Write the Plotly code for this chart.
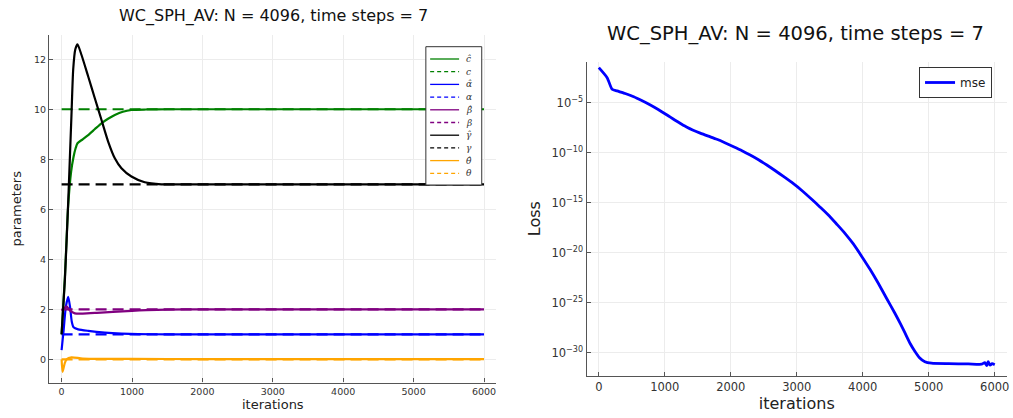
import plotly.graph_objects as go

W, H = 1013, 418

TITLE = "WC_SPH_AV: N = 4096, time steps = 7"

# ---------------- left panel data (iterations, parameter values) ----------------
c_hat_it = [0, 47, 94, 135, 170, 200, 226, 300, 378, 470, 567, 660, 756, 870, 992, 1200, 1500, 2000, 3000, 4000, 5000, 6000]
c_hat = [1.0, 3.3, 6.17, 7.5, 8.1, 8.45, 8.64, 8.8, 8.97, 9.2, 9.44, 9.62, 9.77, 9.9, 9.97, 9.99, 10.0, 10.0, 10.0, 10.0, 10.0, 10.0]

alpha_hat_it = [0, 30, 60, 94, 120, 145, 170, 236, 378, 614, 850, 1086, 1500, 2000, 3000, 4000, 5000, 6000]
alpha_hat = [0.37, 1.2, 2.1, 2.5, 2.1, 1.5, 1.28, 1.2, 1.14, 1.07, 1.03, 1.01, 1.0, 1.0, 1.0, 1.0, 1.0, 1.0]

beta_hat_it = [0, 40, 71, 120, 188, 300, 500, 730, 1000, 1205, 1500, 2000, 3000, 4000, 5000, 6000]
beta_hat = [1.95, 2.05, 2.12, 1.95, 1.84, 1.83, 1.86, 1.9, 1.94, 1.97, 1.99, 2.0, 2.0, 2.0, 2.0, 2.0]

gamma_hat_it = [0, 47, 94, 140, 165, 195, 226, 283, 378, 472, 567, 661, 756, 850, 992, 1181, 1417, 1700, 2000, 3000, 4000, 5000, 6000]
gamma_hat = [1.0, 3.2, 6.3, 9.75, 11.6, 12.4, 12.6, 12.17, 11.31, 10.44, 9.57, 8.71, 8.04, 7.64, 7.31, 7.08, 7.0, 7.0, 7.0, 7.0, 7.0, 7.0, 7.0]

theta_hat_it = [0, 14, 45, 71, 141, 300, 1000, 2000, 3000, 4000, 5000, 6000]
theta_hat = [0.0, -0.5, -0.15, 0.0, 0.08, 0.03, 0.02, 0.01, 0.01, 0.01, 0.01, 0.01]

true_it = [0, 6000]
c_true = [10, 10]
alpha_true = [1, 1]
beta_true = [2, 2]
gamma_true = [7, 7]
theta_true = [0, 0]

# ---------------- right panel data (iterations, mse loss) ----------------
loss_it = [0, 126, 202, 277, 400, 529, 650, 781, 900, 1034, 1150, 1250, 1336, 1430, 1537,
           1660, 1789, 1910, 2042, 2170, 2294, 2420, 2546, 2670, 2798, 2949, 3090, 3226,
           3350, 3478, 3600, 3730, 3860, 3982, 4110, 4235, 4360, 4487, 4570, 4638, 4720,
           4789, 4860, 4941, 5041, 5300, 5600, 5800, 5850, 5880, 5900, 5930, 5960, 6000]
loss = [3.2e-2, 3.2e-3, 2.2e-4, 1.5e-4, 8.3e-5, 4.0e-5, 1.66e-5, 5.9e-6, 2.1e-6, 5.9e-7,
        1.86e-7, 7.4e-8, 3.5e-8, 1.78e-8, 9.1e-9, 4.5e-9, 2.2e-9, 1.0e-9, 4.0e-10, 1.6e-10,
        5.9e-11, 2.0e-11, 5.9e-12, 1.66e-12, 4.2e-13, 7.9e-14, 1.41e-14, 2.2e-15, 3.8e-16,
        5.9e-17, 7.9e-18, 8.7e-19, 7.1e-20, 4.5e-21, 2.2e-22, 8.7e-24, 2.8e-25, 8.7e-27,
        7.9e-28, 1.0e-28, 7.9e-30, 1.41e-30, 3.2e-31, 1.26e-31, 8.9e-32, 7.9e-32, 7.6e-32,
        7.1e-32, 1.0e-31, 5.0e-32, 1.26e-31, 5.6e-32, 7.9e-32, 6.3e-32]

left_xticks = [0, 1000, 2000, 3000, 4000, 5000, 6000]
left_yticks = [0, 2, 4, 6, 8, 10, 12]
right_yticks = [1e-5, 1e-10, 1e-15, 1e-20, 1e-25, 1e-30]
right_yticktext = ["10<sup>−5</sup>", "10<sup>−10</sup>", "10<sup>−15</sup>",
                   "10<sup>−20</sup>", "10<sup>−25</sup>", "10<sup>−30</sup>"]

legend_labels = ["<i>ĉ</i>", "<i>c</i>", "<i>α̂</i>", "<i>α</i>", "<i>β̂</i>",
                 "<i>β</i>", "<i>γ̂</i>", "<i>γ</i>", "<i>θ̂</i>", "<i>θ</i>"]

GREEN, BLUE, PURPLE, BLACK, ORANGE = "#008000", "#0000ff", "#800080", "#000000", "#ffa500"
FONT = "DejaVu Sans"
DASH = "11px,6px"


def px(x):
    return x / W


def py(y):
    return 1 - y / H


fig = go.Figure()

series = [
    (c_hat_it, c_hat, GREEN, "solid"),
    (true_it, c_true, GREEN, DASH),
    (alpha_hat_it, alpha_hat, BLUE, "solid"),
    (true_it, alpha_true, BLUE, DASH),
    (beta_hat_it, beta_hat, PURPLE, "solid"),
    (true_it, beta_true, PURPLE, DASH),
    (gamma_hat_it, gamma_hat, BLACK, "solid"),
    (true_it, gamma_true, BLACK, DASH),
    (theta_hat_it, theta_hat, ORANGE, "solid"),
    (true_it, theta_true, ORANGE, DASH),
]
for (xs, ys, col, dash), name in zip(series, legend_labels):
    fig.add_trace(go.Scatter(
        x=xs, y=ys, mode="lines", name=name, showlegend=False,
        line=dict(color=col, width=2.2, dash=dash, shape="spline", smoothing=0.6),
        xaxis="x", yaxis="y"))

fig.add_trace(go.Scatter(
    x=loss_it, y=loss, mode="lines", name="mse", showlegend=True,
    line=dict(color=BLUE, width=2.8, shape="spline", smoothing=0.6),
    xaxis="x2", yaxis="y2"))

axis_common = dict(showline=True, linecolor="#555555", linewidth=1.3, mirror=False,
                   ticks="inside", ticklen=4, tickcolor="#555555", tickwidth=1,
                   showgrid=True, gridcolor="#ececec", gridwidth=1, zeroline=False)

fig.update_layout(
    width=W, height=H, margin=dict(l=0, r=0, t=0, b=0),
    paper_bgcolor="white", plot_bgcolor="white",
    font=dict(family=FONT, color="#222222"),
    xaxis=dict(domain=[px(49.3), px(497.4)], range=[-176, 6176], tickvals=left_xticks,
               tickfont=dict(size=9.5, color="#333333"), anchor="y",
               title=dict(text="iterations", font=dict(size=13), standoff=3), **axis_common),
    yaxis=dict(domain=[py(382.6), py(35)], range=[-0.93, 12.97], tickvals=left_yticks,
               tickfont=dict(size=9.5, color="#333333"), anchor="x",
               title=dict(text="parameters", font=dict(size=13), standoff=9), **axis_common),
    xaxis2=dict(domain=[px(587.7), px(1009)], range=[-186, 6186], tickvals=left_xticks,
                tickfont=dict(size=11.5, color="#333333"), anchor="y2",
                title=dict(text="iterations", font=dict(size=16), standoff=3), **axis_common),
    yaxis2=dict(domain=[py(375.7), py(61.7)], type="log", range=[-32.3, -0.9],
                tickvals=right_yticks, ticktext=right_yticktext,
                tickfont=dict(size=11.5, color="#333333"), anchor="x2",
                title=dict(text="Loss", font=dict(size=16), standoff=6), **axis_common),
    legend=dict(x=px(994), y=py(67), xanchor="right", yanchor="top",
                bgcolor="white", bordercolor="#333333", borderwidth=1,
                font=dict(size=12, color="#222222"), itemwidth=30),
    showlegend=True,
)

annotations = [
    dict(text=TITLE, x=px(274), y=py(16), xref="paper", yref="paper", showarrow=False,
         xanchor="center", yanchor="middle", font=dict(size=16, color="#111111")),
    dict(text=TITLE, x=px(797.5), y=py(33), xref="paper", yref="paper", showarrow=False,
         xanchor="center", yanchor="middle", font=dict(size=19.5, color="#111111")),
]

# custom compact legend for the left panel
shapes = [dict(type="rect", xref="paper", yref="paper", x0=px(426.7), x1=px(482.7),
               y0=py(185), y1=py(46.7), line=dict(color="#333333", width=1),
               fillcolor="white", layer="above")]
for i, ((xs, ys, col, dash), name) in enumerate(zip(series, legend_labels)):
    yc = 59 + 12.7 * i
    shapes.append(dict(type="line", xref="paper", yref="paper", x0=px(431), x1=px(460),
                       y0=py(yc), y1=py(yc), layer="above",
                       line=dict(color=col, width=1.3, dash="solid" if dash == "solid" else "4px,3px")))
    annotations.append(dict(text=name, x=px(465), y=py(yc), xref="paper", yref="paper",
                            showarrow=False, xanchor="left", yanchor="middle",
                            font=dict(size=9, color="#333333", family="DejaVu Serif")))

fig.update_layout(annotations=annotations, shapes=shapes)
fig.write_html("out.html")
